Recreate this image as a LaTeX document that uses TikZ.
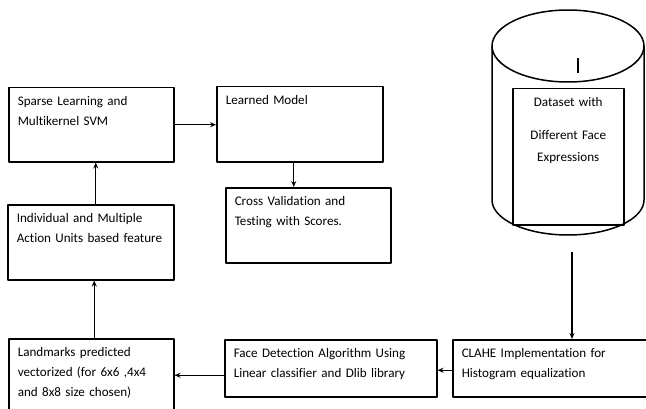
\documentclass[tikz,border=0pt]{standalone}
\usepackage{fontspec}
\setmainfont{Carlito}[Ligatures=NoCommon]
\usetikzlibrary{arrows.meta}
\begin{document}
\begin{tikzpicture}[>={Stealth[length=6pt,width=5pt]},line join=round,x=1pt,y=1pt,font=\fontsize{13.1}{20}\selectfont,
	box/.style={draw,line width=1.5pt,anchor=north west,align=left,inner xsep=9pt,inner ysep=0pt,text height=18pt},
	link/.style={->,line width=1.3pt}]
			\useasboundingbox (0,0) rectangle (646,408);
			% top row
			\node[box,text width=147pt,text depth=56pt] (sparse) at (8,321) {Sparse Learning and\\Multikernel SVM};
			\node[box,text width=148pt,text depth=57pt] (learned) at (216,322) {Learned Model};
			\node[box,text width=147pt,text depth=57pt] (cross) at (225,221) {Cross Validation and\\Testing with Scores.};
			% left column
			\node[box,text width=148pt,text depth=57pt] (indiv) at (7,204) {Individual and Multiple\\Action Units based feature};
			\node[box,text width=147pt,text depth=70pt] (landmarks) at (8,70) {Landmarks predicted\\vectorized (for 6x6 ,4x4\\and 8x8 size chosen)};
			% bottom row
			\node[box,text width=194pt,text depth=39pt] (face) at (224,69) {Face Detection Algorithm Using\\Linear classifier and Dlib library};
			\node[box,text width=182pt,text depth=39pt] (clahe) at (452,69) {CLAHE Implementation for\\Histogram equalization};
			% dataset cylinder
			\draw[line width=1.5pt] (568,362) ellipse [x radius=76,y radius=36];
			\draw[line width=1.5pt] (492,362) -- (492,208) arc [start angle=180,end angle=360,x radius=76,y radius=35] -- (644,362);
			\draw[line width=1.3pt] (578,350) -- (578,335);
			\node[box,align=center,text width=93pt,text depth=118pt] (data) at (512,320) {Dataset with\\[13pt]Different Face\\[2pt]Expressions};
			\coordinate (src) at (572,156);
			% connectors
			\draw[link] (sparse.east) -- (learned.west |- sparse.east);
			\draw[link] ([xshift=-6pt]learned.south) -- ([xshift=-6pt]learned.south |- cross.north);
			\draw[link] ([xshift=5pt]indiv.north) -- ([xshift=5pt]indiv.north |- sparse.south);
			\draw[link] ([xshift=3pt]landmarks.north) -- ([xshift=3pt]landmarks.north |- indiv.south);
			\draw[link] (src) -- (src |- clahe.north);
			\draw[link] ([yshift=-2pt]clahe.west) -- ([yshift=-2pt]clahe.west -| face.east);
			\draw[link] ([yshift=-7pt]face.west) -- ([yshift=-7pt]face.west -| landmarks.east);
	\end{tikzpicture}
\end{document}
